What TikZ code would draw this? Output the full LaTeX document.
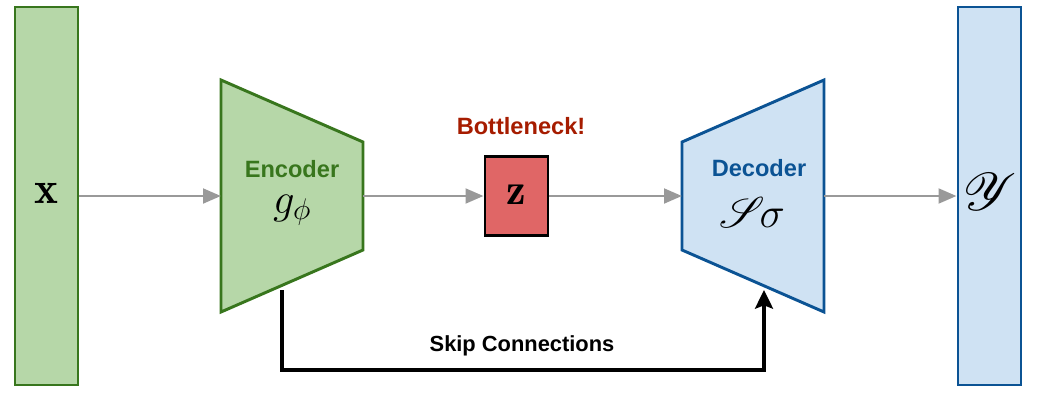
\RequirePackage{fix-cm}
\documentclass[tikz,border=0pt]{standalone}
\usepackage{fontspec}
\usepackage{mathrsfs}
\newfontfamily\lib{Liberation Sans}
\usetikzlibrary{arrows.meta}
\definecolor{gfill}{HTML}{B6D7A8}
\definecolor{gline}{HTML}{38761D}
\definecolor{bfill}{HTML}{CFE2F3}
\definecolor{bline}{HTML}{0B5394}
\definecolor{rfill}{HTML}{E06666}
\definecolor{rtext}{HTML}{A61C00}
\definecolor{arrgray}{HTML}{999999}
\begin{document}
\begin{tikzpicture}[x=0.75pt,y=-0.75pt,
  tallbox/.style={line width=2.2pt, inner sep=0pt, minimum width=47.25pt, minimum height=283.5pt},
  inbox/.style={tallbox, draw=gline, fill=gfill},
  outbox/.style={tallbox, draw=bline, fill=bfill},
  zbox/.style={draw=black, fill=rfill, line width=2.2pt, inner sep=0pt, minimum width=47.25pt, minimum height=59.25pt},
  trap/.style={line width=2.2pt, line join=miter},
  lbl/.style={font=\lib\bfseries\fontsize{17.7}{20}\selectfont, inner sep=0pt},
  mth/.style={font=\fontsize{32}{36}\selectfont, inner sep=0pt},
  grayarrow/.style={draw=arrgray, line width=2.2pt, -{Triangle[length=13.5pt,width=11pt]}},
  skiparrow/.style={draw=black, line width=2.6pt, -{Stealth[length=14pt,width=13.5pt,inset=2.5pt]}}
]
\useasboundingbox (0,0) rectangle (1046,400);

% input / output
\node[inbox] (xbox) at (46.5,196) {};
\node[mth, font=\fontsize{34}{38}\selectfont] (xlab) at (46.5,193) {$\mathbf{x}$};
\node[outbox] (ybox) at (989.5,196) {};
\node[mth] (ylab) at (990,192) {\scalebox{1.6}{$\mathscr{Y}$}};

% encoder
\draw[trap, draw=gline, fill=gfill] (221,80) -- (363,142) -- (363,250) -- (221,312) -- cycle;
\coordinate (encL) at (221,196);
\coordinate (encR) at (363,196);
\node[lbl, text=gline] (enct) at (292,169) {Encoder};
\node[mth] (encm) at (292,210) {$g_\phi$};

% bottleneck
\node[zbox] (z) at (516.5,196) {};
\node[mth, font=\fontsize{33}{36}\selectfont] (zlab) at (516.5,195) {$\mathbf{z}$};
\node[lbl, text=rtext] (bott) at (521,126) {Bottleneck!};

% decoder
\draw[trap, draw=bline, fill=bfill] (682,142) -- (824,80) -- (824,312) -- (682,250) -- cycle;
\coordinate (decL) at (682,196);
\coordinate (decR) at (824,196);
\node[lbl, text=bline] (dect) at (759,168) {Decoder};
\node[mth] (decm) at (752,212) {\scalebox{1.3}{$\mathscr{S}$}\kern-4pt$\sigma$};

% connectors
\draw[grayarrow] (xbox.east) -- (encL);
\draw[grayarrow] (encR) -- (z.west);
\draw[grayarrow] (z.east) -- (decL);
\draw[grayarrow] (decR) -- (ybox.west);

% skip connection
\coordinate (skipS) at (282,290);
\coordinate (skipE) at (764,290);
\draw[skiparrow] (skipS) -- ++(0,80) -| (skipE);
\node[font=\lib\bfseries\fontsize{16.4}{19}\selectfont, inner sep=0pt] (skipl) at (522,346) {Skip Connections};
\end{tikzpicture}
\end{document}
